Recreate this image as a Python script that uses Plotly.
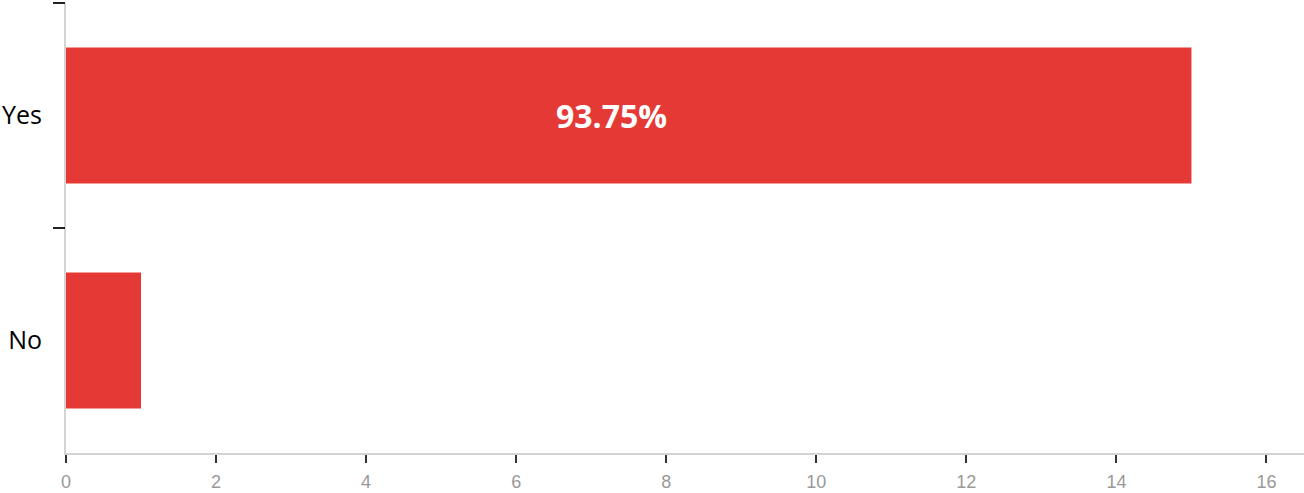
import plotly.graph_objects as go

categories = ["Yes", "No"]
counts = [15, 1]
x_ticks = [0, 2, 4, 6, 8, 10, 12, 14, 16]

total = sum(counts)
pct_label = f"{counts[0] / total * 100:.2f}%"
n = len(categories)

fig = go.Figure()
fig.add_trace(go.Bar(
    x=counts, y=categories, orientation="h",
    marker=dict(color="#E53935", line=dict(width=0)),
    hoverinfo="skip",
))
# invisible helper trace for the boundary tick axis
fig.add_trace(go.Scatter(x=[None], y=[None], yaxis="y2", showlegend=False, hoverinfo="skip"))

fig.add_annotation(
    x=counts[0] * 0.485, y=categories[0], text=pct_label, showarrow=False,
    font=dict(family="Open Sans", size=32, color="white", weight="bold"),
    xanchor="center", yanchor="middle",
)

fig.update_layout(
    width=1304, height=493,
    margin=dict(l=66, r=0, t=3, b=40),
    plot_bgcolor="white", paper_bgcolor="white",
    bargap=0.395, showlegend=False,
    yaxis2=dict(
        overlaying="y", side="left", range=[-0.5, n - 0.5],
        tickvals=[i + 0.5 for i in range(n - 1)] + [n - 0.5],
        showticklabels=False, showgrid=False, zeroline=False, showline=False,
        ticks="outside", ticklen=12, tickcolor="#222", tickwidth=2,
    ),
)
fig.update_xaxes(
    range=[0, 16.5], tickvals=x_ticks, ticktext=[str(v) for v in x_ticks],
    showgrid=False, zeroline=False, showline=True, linecolor="#d4d4d4", linewidth=2,
    ticks="outside", ticklen=8, tickcolor="#333", tickwidth=2,
    ticklabelstandoff=3,
    tickfont=dict(family="Liberation Sans", size=18, color="#999"),
)
fig.layout.yaxis.update(
    categoryorder="array", categoryarray=categories[::-1],
    range=[-0.5, 1.5],
    showgrid=False, zeroline=False, showline=True, linecolor="#d4d4d4", linewidth=2,
    ticks="", ticklabelstandoff=17,
    tickfont=dict(family="Open Sans", size=25, color="black"),
)

fig.write_html("out.html")
